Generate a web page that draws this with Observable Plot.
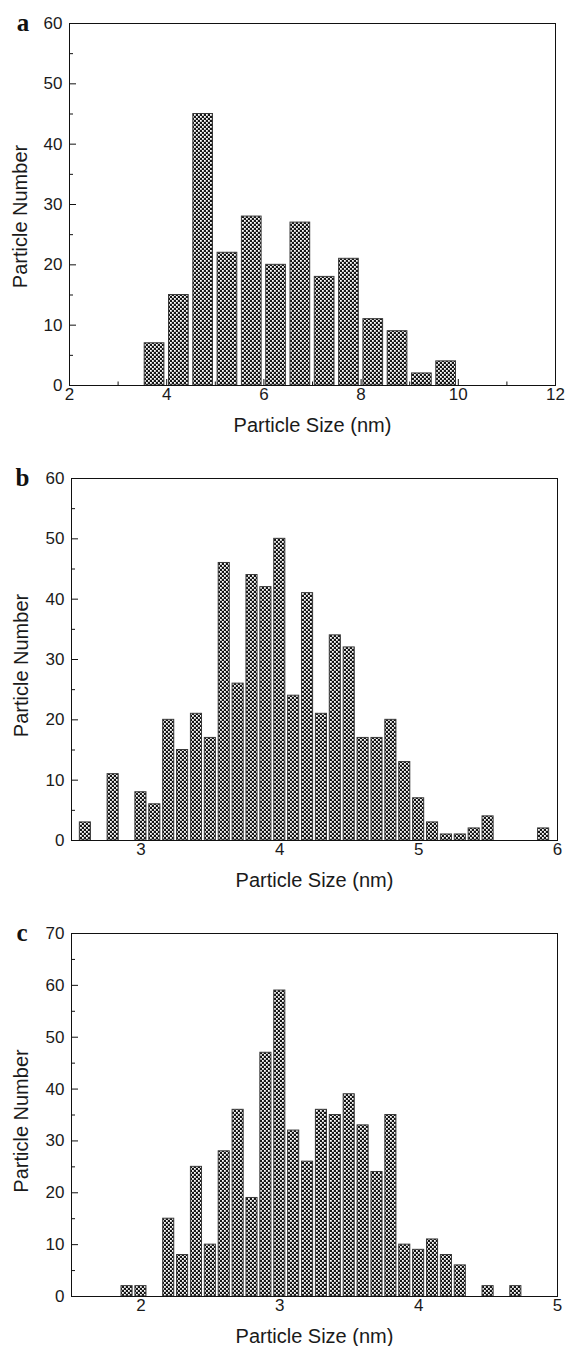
<!DOCTYPE html>
<html><head><meta charset="utf-8">
<script src="https://cdn.jsdelivr.net/npm/d3@7"></script>
<script src="https://cdn.jsdelivr.net/npm/@observablehq/plot@0.6"></script>
<style>
html,body{margin:0;padding:0;background:#fff;overflow:hidden}
#wrap{position:relative;width:565px;height:1346px}
.panel{position:absolute;left:0}
</style></head><body><div id="wrap"></div>
<script>
// Panel a (bin width 0.5 nm)
const sizesA  = [3.75, 4.25, 4.75, 5.25, 5.75, 6.25, 6.75, 7.25, 7.75, 8.25, 8.75, 9.25, 9.75];
const countsA = [7, 15, 45, 22, 28, 20, 27, 18, 21, 11, 9, 2, 4];
// Panel b (bin width 0.1 nm)
const sizesB  = [2.6, 2.8, 3.0, 3.1, 3.2, 3.3, 3.4, 3.5, 3.6, 3.7, 3.8, 3.9, 4.0, 4.1, 4.2, 4.3, 4.4, 4.5, 4.6, 4.7, 4.8, 4.9, 5.0, 5.1, 5.2, 5.3, 5.4, 5.5, 5.9];
const countsB = [3, 11, 8, 6, 20, 15, 21, 17, 46, 26, 44, 42, 50, 24, 41, 21, 34, 32, 17, 17, 20, 13, 7, 3, 1, 1, 2, 4, 2];
// Panel c (bin width 0.1 nm)
const sizesC  = [1.9, 2.0, 2.2, 2.3, 2.4, 2.5, 2.6, 2.7, 2.8, 2.9, 3.0, 3.1, 3.2, 3.3, 3.4, 3.5, 3.6, 3.7, 3.8, 3.9, 4.0, 4.1, 4.2, 4.3, 4.5, 4.7];
const countsC = [2, 2, 15, 8, 25, 10, 28, 36, 19, 47, 59, 32, 26, 36, 35, 39, 33, 24, 35, 10, 9, 11, 8, 6, 2, 2];

const xTicksA = [2, 4, 6, 8, 10, 12];
const xMinorA = [3, 5, 7, 9, 11];
const xTicksB = [3, 4, 5, 6];
const xTicksC = [2, 3, 4, 5];
const yTicks60 = [0, 10, 20, 30, 40, 50, 60];
const yMinor60 = [5, 15, 25, 35, 45, 55];
const yTicks70 = [0, 10, 20, 30, 40, 50, 60, 70];
const yMinor70 = [5, 15, 25, 35, 45, 55, 65];

const xTitle = "Particle Size (nm)";
const yTitle = "Particle Number";

const SANS = "'Liberation Sans', Arial, Helvetica, sans-serif";
const SERIF = "'Liberation Serif', 'Times New Roman', serif";

const NS = "http://www.w3.org/2000/svg";
function addPattern(svg, id) {
  const defs = document.createElementNS(NS, "defs");
  const pat = document.createElementNS(NS, "pattern");
  pat.setAttribute("id", id);
  pat.setAttribute("width", 4);
  pat.setAttribute("height", 4);
  pat.setAttribute("patternUnits", "userSpaceOnUse");
  const mk = (x, y, w, h, f) => {
    const r = document.createElementNS(NS, "rect");
    r.setAttribute("x", x); r.setAttribute("y", y);
    r.setAttribute("width", w); r.setAttribute("height", h);
    r.setAttribute("fill", f);
    pat.appendChild(r);
  };
  mk(0, 0, 4, 4, "#161616");
  mk(0, 0, 1.8, 1.8, "#ffffff");
  mk(2, 2, 1.8, 1.8, "#ffffff");
  defs.appendChild(pat);
  svg.insertBefore(defs, svg.firstChild);
}

function panel(o) {
  const data = o.sizes.map((s, i) => ({size: s, n: o.counts[i]}));
  const fmt = d => String(d);
  const marks = [
    Plot.axisY(o.yTicks, {tickSize: -7, fill: "none", label: null, stroke: "#111"}),
    Plot.axisY(o.yMinor, {tickSize: -4, fill: "none", label: null, stroke: "#111"}),
    Plot.axisX(o.xTicks, {tickSize: -6, fill: "none", label: null, stroke: "#111"}),
  ];
  if (o.xMinor) marks.push(Plot.axisX(o.xMinor, {tickSize: -3.5, fill: "none", label: null, stroke: "#111"}));
  marks.push(
    Plot.rectY(data, {x1: d => d.size - o.bin / 2, x2: d => d.size + o.bin / 2, y: "n",
      fill: `url(#${o.id})`, stroke: "#3a3a3a", strokeWidth: 1, insetLeft: o.inset, insetRight: o.inset}),
    Plot.axisY(o.yTicks, {tickSize: 0, tickPadding: 7, label: null, fill: "#1a1a1a", tickFormat: fmt, fontSize: 17, fontFamily: SANS}),
    Plot.axisX(o.xTicks, {tickSize: 0, tickPadding: 2, label: null, fill: "#1a1a1a", tickFormat: fmt, fontSize: 17, fontFamily: SANS}),
    Plot.frame({stroke: "#111"}),
    Plot.text([xTitle], {frameAnchor: "bottom", dy: 40, lineAnchor: "middle", textAnchor: "middle", fontSize: 20, fontFamily: SANS, fill: "#1a1a1a"}),
    Plot.text([yTitle], {frameAnchor: "left", rotate: -90, dx: o.titleDx, dy: o.titleDy, lineAnchor: "middle", textAnchor: "middle", fontSize: 20, fontFamily: SANS, fill: "#1a1a1a"}),
    Plot.text([o.letter], {frameAnchor: "top-left", dx: o.letterDx, dy: -1, lineAnchor: "middle", textAnchor: "middle", fontSize: 25, fontWeight: "bold", fontFamily: SERIF, fill: "#111"})
  );
  const chart = Plot.plot({
    width: 565, height: o.height,
    marginTop: 23, marginLeft: o.marginLeft, marginRight: o.marginRight, marginBottom: o.marginBottom,
    style: {fontFamily: SANS, fontSize: "17px", color: "#1a1a1a", background: "#fff", overflow: "visible"},
    x: {domain: o.xDomain},
    y: {domain: o.yDomain},
    marks
  });
  addPattern(chart, o.id);
  const div = document.createElement("div");
  div.className = "panel";
  div.style.top = o.top + "px";
  div.appendChild(chart);
  document.getElementById("wrap").appendChild(div);
}

panel({id: "patA", top: 0, height: 450, marginLeft: 69, marginRight: 10, marginBottom: 65,
  sizes: sizesA, counts: countsA, bin: 0.5, inset: 2.3, xDomain: [2, 12], xTicks: xTicksA, xMinor: xMinorA,
  yDomain: [0, 60], yTicks: yTicks60, yMinor: yMinor60, letter: "a", letterDx: -46.5, titleDx: -49, titleDy: 12});

panel({id: "patB", top: 455, height: 450, marginLeft: 71, marginRight: 8, marginBottom: 65,
  sizes: sizesB, counts: countsB, bin: 0.1, inset: 1.4, xDomain: [2.5, 6], xTicks: xTicksB, xMinor: null,
  yDomain: [0, 60], yTicks: yTicks60, yMinor: yMinor60, letter: "b", letterDx: -49, titleDx: -50, titleDy: 6});

panel({id: "patC", top: 910, height: 436, marginLeft: 71, marginRight: 8, marginBottom: 50,
  sizes: sizesC, counts: countsC, bin: 0.1, inset: 1.4, xDomain: [1.5, 5], xTicks: xTicksC, xMinor: null,
  yDomain: [0, 70], yTicks: yTicks70, yMinor: yMinor70, letter: "c", letterDx: -49.5, titleDx: -50, titleDy: 6});
</script>
</body></html>
